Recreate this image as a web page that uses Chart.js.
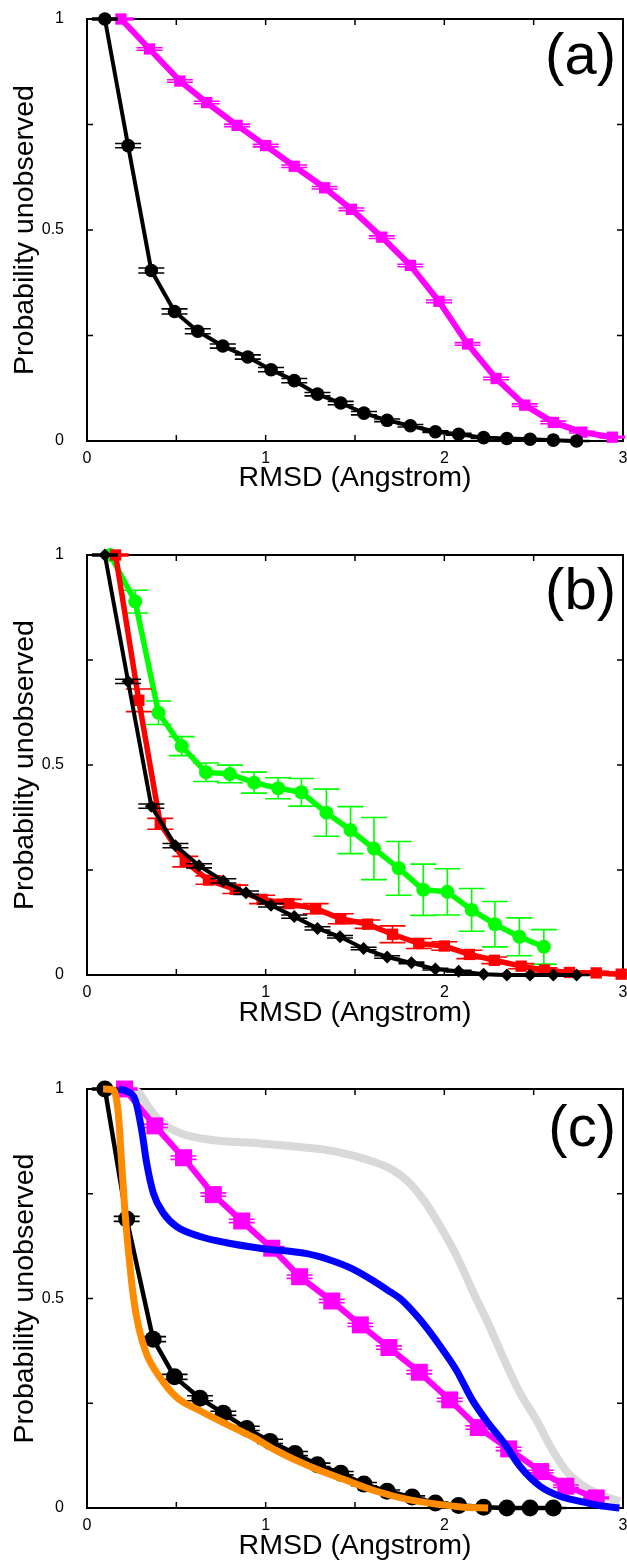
<!DOCTYPE html>
<html lang="en">
<head>
<meta charset="UTF-8">
<title>Probability unobserved vs RMSD</title>
<script src="https://cdn.jsdelivr.net/npm/chart.js"></script>
<style>
  html, body { margin: 0; background: #fff; overflow: hidden; }
  .painel { position: absolute; left: 0; }
</style>
</head>
<body>
<!-- canvases are a bit wider than the window so the last x label ("3") is cut at the edge, like the original -->
<canvas id="graficoA" class="painel" width="640" height="520" style="top:0px"></canvas>
<canvas id="graficoB" class="painel" width="640" height="520" style="top:520px"></canvas>
<canvas id="graficoC" class="painel" width="640" height="524" style="top:1040px"></canvas>
<script>

// ---- tick labels / panel labels ----
const xTickLabels = ['0', '1', '2', '3'];
const yTickLabels = ['0', '0.5', '1'];
const panelLabels = ['(a)', '(b)', '(c)'];

// ---- panel (a) ----
const aBlackX = [0.10, 0.23, 0.36, 0.49, 0.62, 0.76, 0.90, 1.03, 1.16, 1.29, 1.42, 1.55, 1.68, 1.81, 1.95, 2.08, 2.22, 2.35, 2.48, 2.61, 2.74];
const aBlackY = [1.0, 0.70, 0.404, 0.307, 0.26, 0.225, 0.199, 0.169, 0.143, 0.111, 0.090, 0.066, 0.049, 0.036, 0.022, 0.016, 0.008, 0.006, 0.004, 0.002, 0.0];
const aBlackErr = [0.002, 0.005, 0.006, 0.006, 0.006, 0.005, 0.005, 0.005, 0.005, 0.004, 0.004, 0.004, 0.003, 0.003, 0.002, 0.002, 0.002, 0.001, 0.001, 0.001, 0.001];
const aMagX = [0.19, 0.35, 0.52, 0.67, 0.84, 1.00, 1.16, 1.33, 1.48, 1.65, 1.81, 1.97, 2.13, 2.29, 2.45, 2.61, 2.77, 2.94];
const aMagY = [1.0, 0.929, 0.853, 0.802, 0.748, 0.70, 0.651, 0.60, 0.549, 0.483, 0.416, 0.331, 0.230, 0.148, 0.085, 0.044, 0.021, 0.009];
const aMagErr = [0.002, 0.003, 0.003, 0.003, 0.003, 0.003, 0.003, 0.003, 0.003, 0.003, 0.003, 0.003, 0.003, 0.003, 0.003, 0.003, 0.002, 0.002];

// ---- panel (b) ----
const bBlackX = [0.10, 0.23, 0.36, 0.495, 0.627, 0.763, 0.89, 1.03, 1.16, 1.29, 1.416, 1.548, 1.68, 1.816, 1.95, 2.08, 2.22, 2.35, 2.48, 2.61, 2.74];
const bBlackY = [1.0, 0.699, 0.402, 0.308, 0.26, 0.224, 0.196, 0.166, 0.139, 0.111, 0.091, 0.063, 0.043, 0.029, 0.014, 0.009, 0.002, 0.0, 0.0, 0.0, 0.0];
const bBlackErr = [0.002, 0.005, 0.005, 0.005, 0.005, 0.005, 0.004, 0.004, 0.004, 0.004, 0.003, 0.003, 0.003, 0.002, 0.002, 0.002, 0.001, 0.001, 0.001, 0.001, 0.001];
const bRedX = [0.16, 0.29, 0.41, 0.55, 0.68, 0.83, 0.98, 1.13, 1.28, 1.42, 1.57, 1.71, 1.857, 2.0, 2.14, 2.28, 2.43, 2.56, 2.70, 2.85, 2.99];
const bRedY = [1.0, 0.654, 0.36, 0.27, 0.226, 0.204, 0.180, 0.170, 0.158, 0.134, 0.121, 0.097, 0.075, 0.069, 0.049, 0.035, 0.021, 0.012, 0.006, 0.005, 0.002];
const bRedErr = [0.002, 0.027, 0.013, 0.0125, 0.01, 0.01, 0.01, 0.01, 0.012, 0.012, 0.01, 0.02, 0.012, 0.01, 0.01, 0.008, 0.006, 0.005, 0.004, 0.004, 0.003];
const bGreenX = [0.13, 0.27, 0.40, 0.53, 0.666, 0.80, 0.935, 1.07, 1.20, 1.34, 1.475, 1.606, 1.745, 1.882, 2.017, 2.153, 2.283, 2.42, 2.557];
const bGreenY = [1.0, 0.889, 0.6245, 0.545, 0.4826, 0.4786, 0.458, 0.4445, 0.435, 0.3865, 0.345, 0.301, 0.254, 0.203, 0.198, 0.155, 0.121, 0.091, 0.067];
const bGreenErr = [0.0, 0.027, 0.028, 0.0226, 0.022, 0.021, 0.025, 0.025, 0.033, 0.056, 0.056, 0.074, 0.064, 0.061, 0.055, 0.051, 0.054, 0.045, 0.041];

// ---- panel (c) ----
const cBlackX = [0.10, 0.222, 0.37, 0.49, 0.632, 0.763, 0.894, 1.024, 1.164, 1.29, 1.42, 1.55, 1.68, 1.82, 1.95, 2.08, 2.22, 2.35, 2.48, 2.61];
const cBlackY = [1.0, 0.69, 0.403, 0.313, 0.262, 0.226, 0.19, 0.159, 0.13, 0.103, 0.083, 0.057, 0.040, 0.026, 0.012, 0.006, 0.002, 0.0, 0.0, 0.0];
const cBlackErr = [0.002, 0.006, 0.006, 0.006, 0.006, 0.005, 0.005, 0.005, 0.005, 0.004, 0.004, 0.004, 0.003, 0.003, 0.002, 0.002, 0.001, 0.001, 0.001, 0.001];
const cMagX = [0.21, 0.38, 0.54, 0.707, 0.866, 1.034, 1.19, 1.37, 1.53, 1.69, 1.86, 2.03, 2.19, 2.36, 2.54, 2.68, 2.85];
const cMagY = [1.0, 0.912, 0.836, 0.748, 0.685, 0.62, 0.552, 0.494, 0.437, 0.383, 0.324, 0.258, 0.192, 0.141, 0.087, 0.052, 0.024];
const cMagErr = [0.002, 0.004, 0.004, 0.004, 0.004, 0.004, 0.004, 0.004, 0.004, 0.004, 0.004, 0.004, 0.004, 0.004, 0.003, 0.003, 0.002];
const cBlueX = [0.175, 0.22, 0.27, 0.306, 0.334, 0.371, 0.427, 0.50, 0.632, 0.78, 0.968, 1.23, 1.36, 1.48, 1.60, 1.70, 1.755, 1.865, 1.977, 2.066, 2.156, 2.245, 2.335, 2.424, 2.536, 2.648, 2.76, 2.87, 2.98];
const cBlueY = [1.0, 0.995, 0.974, 0.902, 0.823, 0.752, 0.704, 0.672, 0.648, 0.633, 0.620, 0.607, 0.592, 0.572, 0.543, 0.515, 0.499, 0.449, 0.386, 0.330, 0.258, 0.203, 0.155, 0.099, 0.052, 0.028, 0.016, 0.006, 0.0];
const cGreyX = [0.175, 0.28, 0.343, 0.408, 0.52, 0.69, 0.968, 1.23, 1.36, 1.548, 1.697, 1.79, 1.886, 1.98, 2.073, 2.167, 2.245, 2.335, 2.424, 2.514, 2.604, 2.693, 2.783, 2.872, 2.984];
const cGreyY = [1.0, 0.994, 0.958, 0.923, 0.895, 0.879, 0.870, 0.860, 0.853, 0.834, 0.81, 0.782, 0.734, 0.67, 0.598, 0.51, 0.441, 0.354, 0.274, 0.211, 0.139, 0.083, 0.052, 0.032, 0.016];
const cOrangeX = [0.09, 0.147, 0.175, 0.194, 0.213, 0.235, 0.258, 0.29, 0.334, 0.408, 0.502, 0.632, 0.78, 0.93, 1.06, 1.19, 1.30, 1.44, 1.62, 1.80, 1.98, 2.11, 2.245];
const cOrangeY = [1.0, 0.998, 0.943, 0.823, 0.704, 0.60, 0.51, 0.43, 0.367, 0.312, 0.264, 0.232, 0.2, 0.169, 0.137, 0.110, 0.090, 0.068, 0.040, 0.020, 0.008, 0.002, 0.0];

const FONTE = "'Liberation Sans', Arial, Helvetica, sans-serif";

function pontos(xs, ys) {
    return xs.map(function (x, i) { return { x: x, y: ys[i] }; });
}

// series with markers and error bars
function serieMarcada(xs, ys, err, cor, largura, estilo, raio, ordem) {
    return {
        data: pontos(xs, ys),
        errY: err,
        borderColor: cor,
        backgroundColor: cor,
        pointBackgroundColor: cor,
        borderWidth: largura,
        borderJoinStyle: 'round',
        pointStyle: estilo,
        pointRadius: raio,
        pointBorderWidth: 0,
        tension: 0,
        clip: false,
        order: ordem
    };
}

// dense curves without markers
function serieCurva(xs, ys, cor, largura, ordem) {
    return {
        data: pontos(xs, ys),
        borderColor: cor,
        borderWidth: largura,
        borderJoinStyle: 'round',
        pointRadius: 0,
        cubicInterpolationMode: 'monotone',
        clip: false,
        order: ordem
    };
}

// frame with inward ticks on all four sides + the panel letter
const moldura = {
    id: 'moldura',
    beforeDatasetsDraw(chart) {
        const ctx = chart.ctx, a = chart.chartArea, sx = chart.scales.x, sy = chart.scales.y;
        ctx.save();
        ctx.strokeStyle = '#000';
        ctx.lineWidth = 2;
        ctx.strokeRect(a.left, a.top, a.right - a.left, a.bottom - a.top);
        ctx.lineWidth = 1.5;
        ctx.beginPath();
        sx.ticks.forEach(function (t) {
            const px = sx.getPixelForValue(t.value);
            ctx.moveTo(px, a.bottom); ctx.lineTo(px, a.bottom - 6);
            ctx.moveTo(px, a.top); ctx.lineTo(px, a.top + 6);
        });
        sy.ticks.forEach(function (t) {
            const py = sy.getPixelForValue(t.value);
            ctx.moveTo(a.left, py); ctx.lineTo(a.left + 6, py);
            ctx.moveTo(a.right, py); ctx.lineTo(a.right - 6, py);
        });
        ctx.stroke();
        ctx.restore();
    },
    afterDraw(chart, args, opts) {
        const ctx = chart.ctx, a = chart.chartArea;
        ctx.save();
        ctx.fillStyle = '#000';
        ctx.font = '58px ' + FONTE;
        ctx.textAlign = 'right';
        ctx.textBaseline = 'middle';
        ctx.fillText(opts.label, a.right - 7, a.top + opts.labelY);
        ctx.restore();
    }
};

const barrasErro = {
    id: 'barrasErro',
    afterDatasetDraw(chart, args) {
        const ds = chart.data.datasets[args.index];
        if (!ds.errY) return;
        const ctx = chart.ctx, sx = chart.scales.x, sy = chart.scales.y;
        ctx.save();
        ctx.strokeStyle = ds.borderColor;
        ctx.lineWidth = 1.6;
        ctx.beginPath();
        ds.data.forEach(function (p, i) {
            const e = ds.errY[i];
            if (!e) return;
            const px = sx.getPixelForValue(p.x);
            const y1 = sy.getPixelForValue(p.y - e);
            const y2 = sy.getPixelForValue(p.y + e);
            ctx.moveTo(px, y1); ctx.lineTo(px, y2);
            ctx.moveTo(px - 13, y1); ctx.lineTo(px + 13, y1);
            ctx.moveTo(px - 13, y2); ctx.lineTo(px + 13, y2);
        });
        ctx.stroke();
        ctx.restore();
    }
};

function criarPainel(id, datasets, letra, topo, alturaEixoX, espacoTitulo, letraY) {
    return new Chart(document.getElementById(id), {
        type: 'line',
        data: { datasets: datasets },
        options: {
            responsive: false,
            animation: false,
            events: [],
            // right padding 17 on a 640 wide canvas -> plot ends at x = 623
            layout: { padding: { top: topo, right: 17, left: 0, bottom: 0 } },
            plugins: {
                legend: { display: false },
                tooltip: { enabled: false },
                moldura: { label: letra, labelY: letraY }
            },
            scales: {
                x: {
                    type: 'linear', min: 0, max: 3,
                    grid: { display: false }, border: { display: false },
                    ticks: {
                        stepSize: 0.5, autoSkip: false, maxRotation: 0, padding: 0, color: '#000',
                        font: { size: 16, family: FONTE },
                        callback: function (v) { return xTickLabels.includes(String(v)) ? String(v) : ''; }
                    },
                    title: {
                        display: true, text: 'RMSD (Angstrom)', color: '#000',
                        font: { size: 28.5, family: FONTE },
                        padding: { top: 0, bottom: espacoTitulo }
                    },
                    afterFit: function (s) { s.height = alturaEixoX; s.paddingLeft = 0; s.paddingRight = 0; }
                },
                y: {
                    min: 0, max: 1,
                    grid: { display: false }, border: { display: false },
                    ticks: {
                        stepSize: 0.25, autoSkip: false, padding: 15, color: '#000',
                        font: { size: 16, family: FONTE },
                        callback: function (v) { return yTickLabels.includes(String(v)) ? String(v) : ''; }
                    },
                    title: {
                        display: true, text: 'Probability unobserved', color: '#000',
                        font: { size: 28.5, family: FONTE },
                        padding: { top: 8, bottom: 0 }
                    },
                    afterFit: function (s) { s.width = 87; s.paddingTop = 0; s.paddingBottom = 0; }
                }
            }
        },
        plugins: [moldura, barrasErro]
    });
}

criarPainel('graficoA', [
    serieMarcada(aBlackX, aBlackY, aBlackErr, '#000000', 4, 'circle', 6.8, 1),
    serieMarcada(aMagX, aMagY, aMagErr, '#ff00ff', 6, 'rect', 8, 2)
], panelLabels[0], 19, 79, 25, 39);

criarPainel('graficoB', [
    serieMarcada(bBlackX, bBlackY, bBlackErr, '#000000', 4, 'rectRot', 6.5, 1),
    serieMarcada(bRedX, bRedY, bRedErr, '#ff0000', 5.5, 'rect', 8, 2),
    serieMarcada(bGreenX, bGreenY, bGreenErr, '#00ff00', 5.5, 'circle', 7, 3)
], panelLabels[1], 35, 65, 10, 38);

criarPainel('graficoC', [
    serieCurva(cOrangeX, cOrangeY, '#ff8c00', 7, 1),
    serieMarcada(cBlackX, cBlackY, cBlackErr, '#000000', 4.5, 'circle', 8.5, 2),
    serieCurva(cBlueX, cBlueY, '#0000ff', 7, 3),
    serieMarcada(cMagX, cMagY, cMagErr, '#ff00ff', 6, 'rect', 12, 4),
    serieCurva(cGreyX, cGreyY, '#d9d9d9', 8, 5)
], panelLabels[2], 49, 56, 1, 41);

</script>
</body>
</html>
